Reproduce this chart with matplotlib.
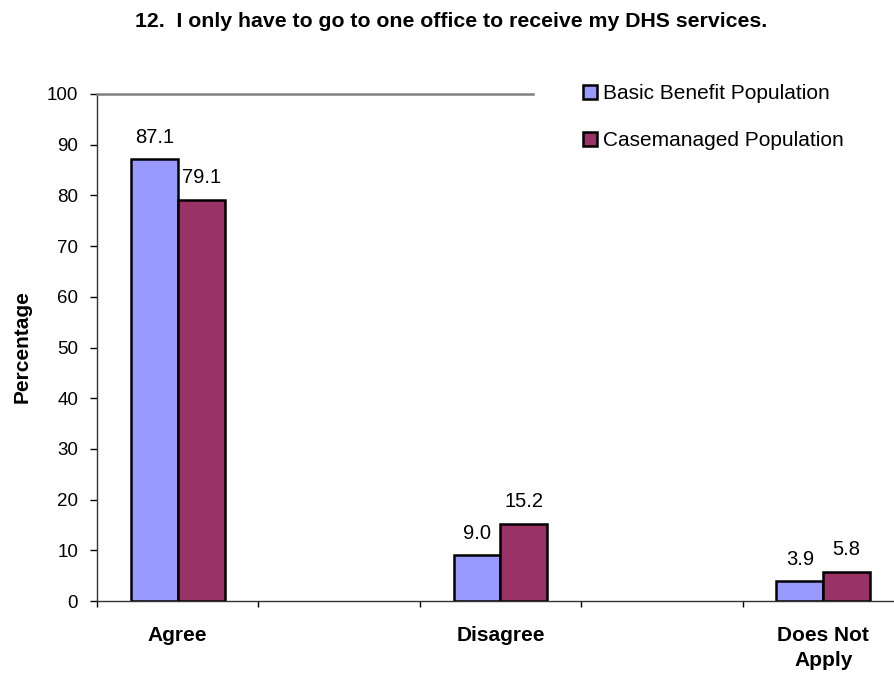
import numpy as np
import matplotlib.pyplot as plt

plt.rcParams['font.family'] = ['Liberation Sans', 'DejaVu Sans']

categories = ["Agree", "Disagree", "Does Not\nApply"]
basic = [87.1, 9.0, 3.9]
casemanaged = [79.1, 15.2, 5.8]
series_names = ["Basic Benefit Population", "Casemanaged Population"]
yticks = [0, 10, 20, 30, 40, 50, 60, 70, 80, 90, 100]

blue = "#9999FF"
plum = "#993366"

W, H = 895, 674
fig = plt.figure(figsize=(W / 100, H / 100), dpi=100)
# plot area: left edge 97px, y=0 at 601px, y=100 at 94px (runs off the right side)
ax = fig.add_axes([97 / W, (H - 601) / H, 807 / W, 507 / H])

x = np.arange(len(categories)) * 2
w = 0.29
b1 = ax.bar(x - w / 2, basic, w, color=blue, edgecolor="black", linewidth=1.8)
b2 = ax.bar(x + w / 2, casemanaged, w, color=plum, edgecolor="black", linewidth=1.8)

for bars, vals in [(b1, basic), (b2, casemanaged)]:
    for r, v in zip(bars, vals):
        ax.annotate(f"{v:.1f}", (r.get_x() + r.get_width() / 2, v),
                    xytext=(0, 12), textcoords="offset points",
                    ha="center", va="baseline", fontsize=14.5)

ax.set_xlim(-0.5, 4.5)
ax.set_ylim(0, 100)
ax.set_yticks(yticks)
ax.set_xticks(np.arange(-0.5, 5, 1))
ax.set_xticklabels([])
ax.tick_params(axis="y", direction="out", length=5, width=1, pad=8.5, labelsize=13.5)
ax.tick_params(axis="x", direction="out", length=4.5, width=1)

for lab, xc in zip(categories, x):
    ax.annotate(lab, (xc, 0), xycoords=("data", "axes fraction"),
                xytext=(0, -18), textcoords="offset points",
                ha="center", va="top", fontsize=15, fontweight="bold",
                linespacing=1.4)

ax.spines["right"].set_visible(False)
ax.spines["top"].set_color("#808080")
ax.spines["top"].set_linewidth(1.8)
ax.spines["top"].set_bounds(-0.5, 2.2)
for s in ("left", "bottom"):
    ax.spines[s].set_linewidth(1.0)
    ax.spines[s].set_color("#333333")

fig.text(22 / W, 1 - 347 / H, "Percentage", rotation=90, ha="center", va="center",
         fontsize=15, fontweight="bold")

ax.legend([b1, b2], series_names, loc="upper left",
          bbox_to_anchor=(583 / W, 1 - 84 / H), bbox_transform=fig.transFigure,
          frameon=False, fontsize=15, borderpad=0, borderaxespad=0,
          handlelength=0.67, handleheight=0.67, handletextpad=0.3,
          labelspacing=1.35)

fig.text(451 / W, 1 - 27 / H, "12.  I only have to go to one office to receive my DHS services.",
         ha="center", va="baseline", fontsize=15.3, fontweight="bold")

fig.savefig("out.png", dpi=100)
